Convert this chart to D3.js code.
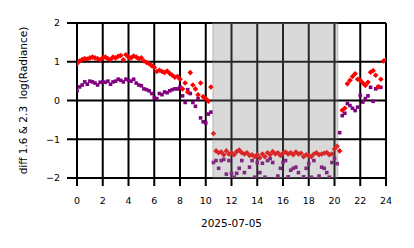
<!DOCTYPE html>
<html><head><meta charset="utf-8">
<script src="https://cdn.jsdelivr.net/npm/d3@7"></script>
<style>html,body{margin:0;padding:0;background:#fff}svg{display:block;font-family:"DejaVu Sans",sans-serif}</style>
</head><body>
<svg id="c" width="414" height="248"></svg>
<script>
const hours = [0,0.2,0.4,0.6,0.8,1,1.2,1.4,1.6,1.8,2,2.2,2.4,2.6,2.8,3,3.2,3.4,3.6,3.8,4,4.2,4.4,4.6,4.8,5,5.2,5.4,5.6,5.8,6,6.2,6.4,6.6,6.8,7,7.2,7.4,7.6,7.8,8,8.2,8.4,8.6,8.8,9,9.2,9.4,9.6,9.8,10,10.2,10.4,10.6,10.8,11,11.2,11.4,11.6,11.8,12,12.2,12.4,12.6,12.8,13,13.2,13.4,13.6,13.8,14,14.2,14.4,14.6,14.8,15,15.2,15.4,15.6,15.8,16,16.2,16.4,16.6,16.8,17,17.2,17.4,17.6,17.8,18,18.2,18.4,18.6,18.8,19,19.2,19.4,19.6,19.8,20,20.2,20.4,20.6,20.8,21,21.2,21.4,21.6,21.8,22,22.2,22.4,22.6,22.8,23,23.2,23.4,23.6,23.8,24];
const redDiff = [0.95,1.02,1.06,1.08,1.07,1.10,1.12,1.10,1.08,1.05,1.10,1.12,1.08,1.06,1.12,1.10,1.14,1.16,1.05,1.18,1.12,1.10,1.15,1.12,1.08,1.10,1.02,0.98,0.95,0.90,0.85,0.75,0.78,0.75,0.72,0.76,0.70,0.65,0.60,0.62,0.55,0.30,0.45,0.22,0.72,0.40,0.30,0.15,0.45,0.10,0.05,-0.02,0.35,-0.85,-1.30,-1.35,-1.33,-1.40,-1.30,-1.38,-1.35,-1.40,-1.32,-1.28,-1.35,-1.38,-1.35,-1.42,-1.40,-1.45,-1.40,-1.48,-1.38,-1.45,-1.35,-1.40,-1.32,-1.38,-1.35,-1.42,-1.36,-1.33,-1.38,-1.35,-1.40,-1.33,-1.38,-1.36,-1.45,-1.40,-1.42,-1.45,-1.38,-1.35,-1.40,-1.38,-1.36,-1.34,-1.40,-1.38,-1.25,-1.18,-1.30,-0.25,-0.20,0.43,0.52,0.62,0.69,0.55,0.52,0.45,0.39,0.47,0.73,0.77,0.65,0.35,0.55,1.02,1.05];
const purpleDiff = [0.25,0.35,0.40,0.48,0.42,0.50,0.48,0.45,0.40,0.47,0.48,0.47,0.50,0.42,0.48,0.50,0.55,0.52,0.48,0.55,0.52,0.50,0.55,0.45,0.40,0.38,0.30,0.28,0.25,0.18,0.08,0.05,0.18,0.15,0.22,0.20,0.25,0.28,0.30,0.30,0.35,0.12,-0.05,0.28,0.18,-0.05,-0.15,0.05,-0.45,-0.55,-0.58,-0.35,-0.30,-1.60,-1.55,-1.75,-1.55,-1.52,-1.90,-1.55,-1.88,-1.98,-1.88,-1.75,-1.55,-1.86,-2.05,-1.72,-1.55,-1.98,-1.60,-1.86,-1.62,-1.98,-1.55,-1.50,-1.60,-2.02,-1.95,-1.75,-1.60,-1.55,-1.97,-1.80,-1.75,-1.72,-1.86,-2.05,-1.97,-1.75,-1.63,-1.98,-1.55,-2.03,-1.95,-1.72,-1.75,-1.86,-1.98,-1.60,-1.50,-1.63,-0.83,-0.39,-0.33,-0.08,-0.13,-0.20,-0.26,-0.17,0.13,-0.04,0.05,0.12,0.34,-0.02,0.30,0.36,0.34];
const xTicks = [0,2,4,6,8,10,12,14,16,18,20,22,24];
const yTicks = [-2,-1,0,1,2];
const nightSpan = [10.55, 20.25];
const xLabel = "2025-07-05";
const yLabel = "diff 1.6 & 2.3  log(Radiance)";

const svg = d3.select("#c");
const x = d3.scaleLinear().domain([0,24]).range([77,386]);
const y = d3.scaleLinear().domain([-2,2]).range([178,23]);

svg.append("defs").append("clipPath").attr("id","clip")
  .append("rect").attr("x",x(0)).attr("y",y(2)).attr("width",x(24)-x(0)).attr("height",y(-2)-y(2));

// grid + ticks
const g = svg.append("g");
g.selectAll("line.h").data(yTicks).join("line")
  .attr("x1",x(0)-10).attr("x2",x(24)).attr("y1",d=>y(d)).attr("y2",d=>y(d))
  .attr("stroke","#000").attr("stroke-width",2);
g.selectAll("line.v").data(xTicks).join("line")
  .attr("class","v").attr("y1",y(2)).attr("y2",y(-2)+8).attr("x1",d=>x(d)).attr("x2",d=>x(d))
  .attr("stroke","#000").attr("stroke-width",2);

const pts = svg.append("g").attr("clip-path","url(#clip)");
const data = hours.map((h,i)=>({h, r:redDiff[i], p:purpleDiff[i]}));
pts.selectAll("rect.p").data(data.filter(d=>d.p!=null)).join("rect")
  .attr("x",d=>x(d.h)-1.8).attr("y",d=>y(d.p)-1.8).attr("width",3.6).attr("height",3.6)
  .attr("fill","#800080");
pts.selectAll("path.r").data(data.filter(d=>d.r!=null)).join("path")
  .attr("d",d=>{const cx=x(d.h), cy=y(d.r), s=2.8; return `M${cx},${cy-s}L${cx+s},${cy}L${cx},${cy+s}L${cx-s},${cy}Z`;})
  .attr("fill","#ff0000");

// night shading
svg.append("rect").attr("x",x(nightSpan[0])).attr("y",y(2)).attr("width",x(nightSpan[1])-x(nightSpan[0])).attr("height",y(-2)-y(2))
  .attr("fill","#808080").attr("fill-opacity",0.3).attr("stroke","#808080").attr("stroke-opacity",0.3).attr("stroke-width",1.5);

// tick labels
svg.append("g").selectAll("text").data(yTicks).join("text")
  .attr("x",60).attr("y",d=>y(d)).attr("dy","0.35em").attr("text-anchor","end")
  .attr("font-size","9.5px").text(d=>d<0?"\u2212"+Math.abs(d):d);
svg.append("g").selectAll("text").data(xTicks).join("text")
  .attr("x",d=>x(d)).attr("y",204).attr("text-anchor","middle")
  .attr("font-size","9.5px").text(d=>d);

svg.append("text").attr("x",(x(0)+x(24))/2).attr("y",227).attr("text-anchor","middle")
  .attr("font-size","10.5px").text(xLabel);
svg.append("text").attr("transform",`translate(27,${(y(2)+y(-2))/2}) rotate(-90)`)
  .attr("text-anchor","middle").attr("font-size","10.5px").style("white-space","pre").text(yLabel);
</script>
</body></html>
